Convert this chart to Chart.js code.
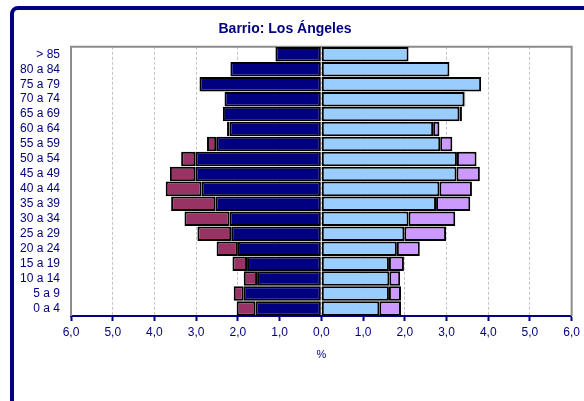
<!DOCTYPE html>
<html>
<head>
<meta charset="utf-8">
<script src="https://cdn.jsdelivr.net/npm/chart.js@4.4.1/dist/chart.umd.min.js"></script>
<style>
  html, body { margin: 0; padding: 0; background: #ffffff; overflow: hidden; }
  #frame { position: absolute; left: 10px; top: 6px; width: 620px; height: 440px;
           border: 4px solid #000080; border-radius: 8px; background: #ffffff; box-sizing: border-box; }
  #c { position: absolute; left: 0; top: 0; }
</style>
</head>
<body>
<div id="frame"></div>
<canvas id="c" width="584" height="401"></canvas>
<script>
// ---- data ----
const ageGroups = ["> 85","80 a 84","75 a 79","70 a 74","65 a 69","60 a 64","55 a 59","50 a 54","45 a 49","40 a 44","35 a 39","30 a 34","25 a 29","20 a 24","15 a 19","10 a 14","5 a 9","0 a 4"];
const leftInner  = [1.10, 2.18, 2.92, 2.32, 2.36, 2.20, 2.52, 3.02, 3.02, 2.87, 2.54, 2.20, 2.16, 2.00, 1.78, 1.54, 1.86, 1.58];
const leftOuter  = [0, 0, 0, 0, 0, 0.06, 0.22, 0.34, 0.61, 0.86, 1.06, 1.08, 0.81, 0.51, 0.35, 0.32, 0.24, 0.45];
const rightInner = [2.09, 3.07, 3.83, 3.43, 3.31, 2.68, 2.85, 3.25, 3.24, 2.83, 2.75, 2.09, 1.99, 1.81, 1.62, 1.63, 1.62, 1.39];
const rightOuter = [0, 0, 0, 0.02, 0.06, 0.15, 0.29, 0.47, 0.56, 0.78, 0.82, 1.12, 1.00, 0.55, 0.36, 0.26, 0.29, 0.52];
const titleText = "Barrio: Los Ángeles";
const axisTitle = "%";

const FONT = "'Liberation Sans', Arial, sans-serif";
const TXT = "#000080";

function ds(values, color, negative) {
  return {
    data: values.map(v => negative ? -v : v),
    backgroundColor: color,
    borderColor: "#000000",
    borderWidth: 2,
    borderSkipped: false,
    barPercentage: 0.97,
    categoryPercentage: 1.0
  };
}

const plotFrame = {
  id: "plotFrame",
  beforeDatasetsDraw(chart) {
    const a = chart.chartArea, ctx = chart.ctx;
    ctx.save();
    ctx.strokeStyle = "#8c8c8c";
    ctx.lineWidth = 2;
    ctx.beginPath();
    ctx.moveTo(a.left, a.bottom);
    ctx.lineTo(a.left, a.top);
    ctx.lineTo(a.right, a.top);
    ctx.lineTo(a.right, a.bottom);
    ctx.stroke();
    ctx.restore();
  },
  afterLayout(chart) {
    if (chart.titleBlock) { chart.titleBlock.left -= 1; chart.titleBlock.right -= 1; }
  }
};

new Chart(document.getElementById("c"), {
  type: "bar",
  data: {
    labels: ageGroups,
    datasets: [
      ds(leftInner, "#000080", true),
      ds(leftOuter, "#993366", true),
      ds(rightInner, "#99CCFF", false),
      ds(rightOuter, "#CC99FF", false)
    ]
  },
  options: {
    indexAxis: "y",
    responsive: false,
    animation: false,
    devicePixelRatio: 1,
    layout: { padding: { left: 0, right: 12, top: 0, bottom: 39 } },
    plugins: {
      legend: { display: false },
      tooltip: { enabled: false },
      title: {
        display: true,
        text: titleText,
        color: TXT,
        font: { family: FONT, size: 14, weight: "bold" },
        padding: { top: 21, bottom: 9 }
      }
    },
    scales: {
      x: {
        stacked: true,
        min: -6, max: 6,
        ticks: {
          stepSize: 1,
          color: TXT,
          font: { family: FONT, size: 12 },
          padding: 4,
          maxRotation: 0,
          callback: v => Math.abs(v).toFixed(1).replace(".", ",")
        },
        grid: { color: "#c4c4c4", lineWidth: 1, tickLength: 5, tickColor: TXT, tickWidth: 2 },
        border: { display: true, color: TXT, width: 2, dash: [3, 2] },
        title: { display: true, text: axisTitle, color: TXT, font: { family: FONT, size: 11 }, padding: { top: 0, bottom: 0 } },
        afterFit(scale) { scale.height = 46; }
      },
      y: {
        stacked: true,
        ticks: { color: TXT, font: { family: FONT, size: 12 }, padding: 11, autoSkip: false },
        grid: { display: false, drawTicks: false },
        border: { display: false },
        afterFit(scale) { scale.width = 71; }
      }
    }
  },
  plugins: [plotFrame]
});
</script>
</body>
</html>
